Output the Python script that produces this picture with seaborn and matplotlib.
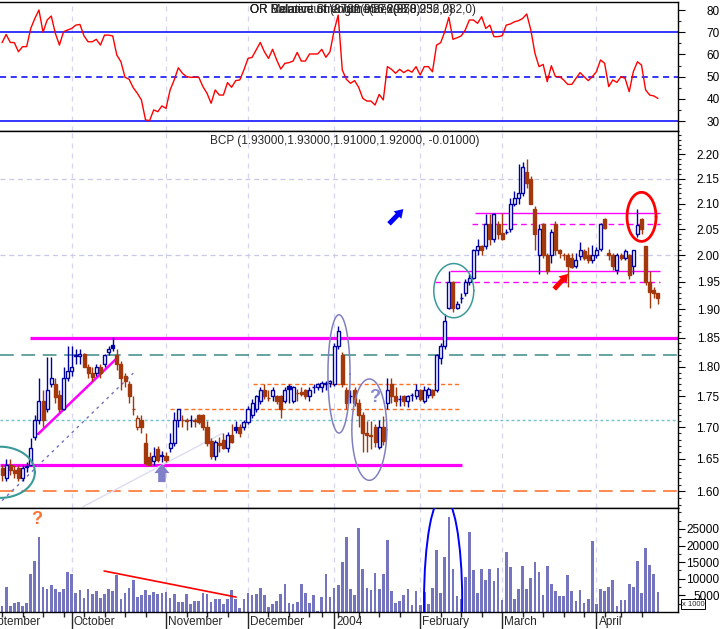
import numpy as np
import pandas as pd
import matplotlib
matplotlib.use("Agg")
import matplotlib.pyplot as plt
import seaborn as sns
from matplotlib.patches import Ellipse
from matplotlib.ticker import FixedLocator, FuncFormatter, NullFormatter
import matplotlib.transforms as mtransforms

# ---- data (one value per trading day) ----
opens = [1.635, 1.620, 1.640, 1.632, 1.635, 1.620, 1.637, 1.641, 1.684, 1.711,
         1.742, 1.730, 1.770, 1.770, 1.752, 1.730, 1.780, 1.792, 1.818, 1.819,
         1.821, 1.800, 1.790, 1.790, 1.800, 1.805, 1.825, 1.838, 1.820, 1.805,
         1.785, 1.770, 1.730, 1.700, 1.711, 1.675, 1.652, 1.647, 1.665, 1.655,
         1.655, 1.667, 1.675, 1.711, 1.712, 1.711, 1.712, 1.711, 1.720, 1.720,
         1.700, 1.678, 1.655, 1.675, 1.680, 1.667, 1.688, 1.700, 1.700, 1.700,
         1.709, 1.720, 1.730, 1.742, 1.760, 1.748, 1.750, 1.750, 1.750, 1.742,
         1.768, 1.742, 1.755, 1.758, 1.760, 1.750, 1.765, 1.765, 1.765, 1.770,
         1.773, 1.771, 1.836, 1.820, 1.760, 1.750, 1.760, 1.740, 1.720, 1.690,
         1.688, 1.700, 1.668, 1.700, 1.740, 1.770, 1.750, 1.745, 1.750, 1.742,
         1.752, 1.750, 1.760, 1.742, 1.752, 1.760, 1.760, 1.815, 1.836, 1.903,
         1.950, 1.903, 1.920, 1.930, 1.950, 1.958, 2.009, 2.017, 2.017, 2.060,
         2.030, 2.060, 2.043, 2.045, 2.050, 2.100, 2.110, 2.121, 2.163, 2.150,
         2.090, 2.000, 2.060, 2.000, 2.000, 2.060, 2.009, 2.000, 2.000, 1.995,
         1.980, 1.998, 2.008, 2.000, 1.990, 2.000, 2.012, 2.070, 2.005, 2.000,
         1.972, 2.000, 1.995, 2.000, 1.980, 2.040, 2.070, 2.017, 1.950, 1.935,
         1.930]
highs = [1.640, 1.650, 1.650, 1.640, 1.640, 1.640, 1.645, 1.682, 1.720, 1.780,
         1.760, 1.817, 1.817, 1.780, 1.760, 1.800, 1.835, 1.835, 1.830, 1.830,
         1.823, 1.805, 1.800, 1.805, 1.805, 1.822, 1.835, 1.851, 1.830, 1.810,
         1.790, 1.775, 1.750, 1.720, 1.720, 1.690, 1.660, 1.668, 1.670, 1.662,
         1.660, 1.690, 1.725, 1.730, 1.720, 1.715, 1.720, 1.715, 1.722, 1.722,
         1.710, 1.682, 1.680, 1.685, 1.690, 1.692, 1.705, 1.710, 1.705, 1.712,
         1.735, 1.745, 1.752, 1.765, 1.770, 1.760, 1.765, 1.752, 1.752, 1.765,
         1.770, 1.768, 1.762, 1.765, 1.762, 1.765, 1.770, 1.772, 1.775, 1.775,
         1.778, 1.840, 1.870, 1.825, 1.765, 1.760, 1.765, 1.745, 1.725, 1.710,
         1.710, 1.705, 1.712, 1.718, 1.780, 1.780, 1.765, 1.752, 1.752, 1.752,
         1.756, 1.770, 1.762, 1.768, 1.765, 1.762, 1.822, 1.840, 1.892, 1.970,
         1.952, 1.915, 1.930, 1.955, 1.965, 2.012, 2.030, 2.020, 2.080, 2.080,
         2.082, 2.065, 2.082, 2.050, 2.110, 2.125, 2.180, 2.185, 2.190, 2.155,
         2.095, 2.060, 2.062, 2.005, 2.050, 2.065, 2.012, 2.005, 2.005, 2.005,
         2.005, 2.025, 2.012, 2.015, 2.020, 2.015, 2.062, 2.072, 2.012, 2.005,
         2.005, 2.005, 2.012, 2.002, 2.010, 2.090, 2.072, 2.018, 1.970, 1.940,
         1.930]
lows = [1.615, 1.615, 1.625, 1.620, 1.615, 1.615, 1.630, 1.638, 1.680, 1.705,
        1.700, 1.725, 1.765, 1.740, 1.725, 1.728, 1.775, 1.785, 1.805, 1.805,
        1.800, 1.780, 1.775, 1.785, 1.780, 1.800, 1.820, 1.826, 1.795, 1.760,
        1.765, 1.740, 1.720, 1.695, 1.690, 1.640, 1.640, 1.640, 1.645, 1.645,
        1.645, 1.660, 1.670, 1.700, 1.700, 1.695, 1.700, 1.700, 1.705, 1.695,
        1.670, 1.650, 1.648, 1.660, 1.665, 1.660, 1.675, 1.690, 1.685, 1.695,
        1.705, 1.715, 1.725, 1.738, 1.745, 1.742, 1.742, 1.738, 1.715, 1.740,
        1.740, 1.740, 1.742, 1.750, 1.745, 1.742, 1.755, 1.760, 1.758, 1.760,
        1.765, 1.768, 1.830, 1.765, 1.730, 1.740, 1.735, 1.700, 1.660, 1.660,
        1.665, 1.668, 1.665, 1.672, 1.730, 1.740, 1.735, 1.735, 1.735, 1.732,
        1.742, 1.745, 1.742, 1.740, 1.748, 1.748, 1.758, 1.805, 1.830, 1.900,
        1.896, 1.900, 1.912, 1.925, 1.945, 1.955, 2.000, 2.000, 2.012, 2.020,
        2.025, 2.030, 2.028, 2.040, 2.045, 2.095, 2.100, 2.115, 2.130, 2.100,
        2.010, 1.965, 1.995, 1.965, 1.985, 2.000, 1.995, 1.990, 1.940, 1.975,
        1.975, 1.990, 1.990, 1.985, 1.985, 1.995, 2.008, 2.050, 1.990, 1.972,
        1.965, 1.990, 1.990, 1.955, 1.965, 2.035, 2.040, 1.945, 1.903, 1.920,
        1.910]
closes = [1.625, 1.640, 1.632, 1.628, 1.620, 1.635, 1.638, 1.667, 1.711, 1.742,
          1.711, 1.760, 1.780, 1.749, 1.730, 1.780, 1.792, 1.800, 1.820, 1.821,
          1.800, 1.790, 1.782, 1.800, 1.790, 1.820, 1.830, 1.832, 1.805, 1.780,
          1.775, 1.750, 1.730, 1.715, 1.700, 1.643, 1.641, 1.655, 1.648, 1.655,
          1.648, 1.675, 1.711, 1.730, 1.712, 1.710, 1.712, 1.710, 1.709, 1.700,
          1.675, 1.655, 1.677, 1.672, 1.667, 1.688, 1.677, 1.695, 1.690, 1.709,
          1.730, 1.740, 1.750, 1.760, 1.750, 1.748, 1.760, 1.742, 1.730, 1.760,
          1.763, 1.765, 1.755, 1.754, 1.750, 1.760, 1.765, 1.770, 1.772, 1.773,
          1.775, 1.836, 1.862, 1.770, 1.740, 1.750, 1.740, 1.720, 1.690, 1.688,
          1.686, 1.676, 1.700, 1.678, 1.760, 1.750, 1.742, 1.745, 1.742, 1.750,
          1.752, 1.760, 1.745, 1.760, 1.762, 1.752, 1.820, 1.836, 1.880, 1.950,
          1.903, 1.910, 1.920, 1.950, 1.958, 2.009, 2.017, 2.009, 2.060, 2.030,
          2.080, 2.040, 2.030, 2.045, 2.100, 2.110, 2.120, 2.173, 2.142, 2.100,
          2.040, 2.050, 2.000, 1.970, 2.045, 2.009, 2.005, 2.000, 1.980, 1.978,
          1.990, 2.010, 1.995, 1.990, 2.000, 2.010, 2.060, 2.052, 2.000, 1.980,
          2.000, 1.995, 2.008, 1.962, 2.009, 2.058, 2.050, 1.950, 1.932, 1.930,
          1.920]
volume = [1800, 7600, 1800, 2800, 3000, 1800, 2600, 11300, 15300, 22500,
          7600, 7000, 8000, 6800, 6100, 6800, 12000, 11500, 5800, 6500,
          4300, 6800, 5300, 6300, 4300, 5500, 6800, 6300, 11000, 3800,
          5800, 7100, 9500, 4500, 5000, 6600, 5100, 6000, 5300, 5800,
          6100, 4100, 5500, 3100, 3000, 5500, 2300, 3300, 3300, 5800,
          5300, 3100, 4000, 3800, 2500, 4000, 6700, 3800, 1300, 3800,
          5800, 5100, 5300, 7100, 5000, 1500, 2500, 3300, 5300, 8300,
          2600, 2500, 3000, 8300, 5800, 2800, 5000, 300, 4500, 11500,
          4600, 7300, 8000, 15000, 22700, 6800, 5100, 25200, 12800, 7100,
          6600, 11800, 6900, 11500, 21700, 6300, 2800, 3300, 5100, 6900,
          2100, 6300, 2100, 6100, 2300, 7300, 18700, 5600, 16500, 28700,
          12800, 4800, 3800, 10500, 24200, 12500, 5800, 12800, 9500, 12800,
          9300, 13300, 3500, 18000, 13600, 3800, 7000, 14000, 6900, 10300,
          15100, 12000, 5100, 13800, 8300, 6300, 4800, 4800, 11000, 6300,
          3300, 6500, 2600, 3800, 21400, 2500, 6900, 6300, 7500, 9600,
          1800, 3500, 3500, 8300, 7600, 15400, 5800, 19200, 14300, 11300,
          6100]
rsi = [65.3, 69.0, 65.4, 65.3, 61.2, 63.5, 63.5, 71.7, 76.2, 80.0,
       70.0, 75.5, 77.3, 69.5, 64.2, 70.2, 71.0, 71.7, 73.2, 73.5,
       68.3, 65.7, 65.7, 66.8, 64.2, 68.7, 68.7, 68.3, 59.7, 56.7,
       49.7, 48.8, 45.0, 42.5, 39.5, 30.5, 30.2, 35.0, 34.2, 36.8,
       35.7, 44.0, 48.5, 54.0, 51.5, 50.0, 49.7, 49.7, 49.7, 45.5,
       42.5, 38.0, 44.0, 41.7, 41.7, 47.3, 45.2, 48.2, 48.5, 53.0,
       58.2, 58.7, 62.0, 65.4, 61.2, 58.2, 62.3, 57.5, 53.4, 56.0,
       56.3, 57.0, 60.9, 57.0, 57.0, 60.2, 60.2, 60.2, 62.3, 58.7,
       61.2, 70.7, 77.7, 53.0, 48.8, 47.0, 48.2, 45.2, 40.2, 39.0,
       39.0, 37.2, 42.0, 39.5, 54.5, 53.3, 51.5, 53.3, 51.8, 53.0,
       52.0, 54.5, 50.7, 54.5, 54.5, 52.2, 64.2, 65.3, 70.2, 76.7,
       66.8, 67.5, 68.3, 71.0, 75.5, 75.5, 74.0, 77.0, 71.7, 73.2,
       68.0, 68.0, 68.4, 73.2, 73.7, 74.7, 75.2, 76.2, 78.2, 71.0,
       60.5, 54.5, 55.5, 47.7, 54.9, 50.0, 50.0, 48.5, 46.5, 46.5,
       49.2, 51.8, 50.0, 48.2, 50.0, 52.2, 57.5, 56.0, 45.5, 48.5,
       47.4, 50.0, 49.2, 43.2, 52.2, 56.7, 55.2, 44.0, 41.7, 41.3,
       40.2]
holidays = ["2003-12-25", "2003-12-26", "2004-01-01", "2004-04-09"]
month_labels = ["September", "October", "November", "December", "2004",
                "February", "March", "April"]
price_ticks = [1.60, 1.65, 1.70, 1.75, 1.80, 1.85, 1.90, 1.95, 2.00, 2.05, 2.10, 2.15, 2.20]
rsi_ticks = [30, 40, 50, 60, 70, 80]
vol_ticks = [5000, 10000, 15000, 20000, 25000]

BLUE = "#0000a0"
BROWN = "#a3380c"
MAGENTA = "#ff00ff"
GRIDC = "#d6d6f0"

sns.set_style("white")
plt.rcParams["font.family"] = ["Liberation Sans", "DejaVu Sans"]
plt.rcParams["font.size"] = 8

n = len(closes)
idx = np.arange(n)

# trading calendar, starting 5 sessions before the first candle
days = pd.bdate_range("2003-09-01", periods=n + 5, freq="C", holidays=holidays)
pos = np.arange(len(days)) - 5
mon = np.asarray(days.month)
month_start = pos[np.r_[True, mon[1:] != mon[:-1]]]
mondays = pos[np.asarray(days.weekday) == 0]

fig = plt.figure(figsize=(7.24, 6.29), dpi=100)
W = 678 / 724
ax_r = fig.add_axes([0, 0.7917, W, 0.2051])
ax_p = fig.add_axes([0, 0.1924, W, 0.5994], sharex=ax_r)
ax_v = fig.add_axes([0, 0.0270, W, 0.1653], sharex=ax_r)

for ax in (ax_r, ax_p, ax_v):
    ax.set_facecolor("white")
    ax.spines["left"].set_visible(False)
    for s in ("top", "right", "bottom"):
        ax.spines[s].set_color("black")
        ax.spines[s].set_linewidth(1)
    ax.yaxis.tick_right()
    ax.tick_params(axis="y", which="major", length=5, width=0.8, pad=25,
                   colors="black", labelsize=8.5)
    ax.tick_params(axis="y", which="minor", length=2.5, width=0.8)
    for m in month_start[1:]:
        ax.axvline(m, color=GRIDC, lw=0.9, ls=(0, (4, 4)), zorder=0)
ax_r.set_xlim(-0.5, 164.9)

# ---- RSI panel ----
sns.lineplot(x=idx, y=rsi, ax=ax_r, color="red", linewidth=1)
for lev, ls in ((70, "-"), (50, (0, (4, 3))), (30, "-")):
    ax_r.axhline(lev, color="#0000ff", lw=1.1, ls=ls, zorder=1)
ax_r.set_ylim(25.5, 83.6)
ax_r.yaxis.set_major_locator(FixedLocator(rsi_ticks))
ax_r.yaxis.set_minor_locator(FixedLocator([35, 45, 55, 65, 75]))
ax_r.set_xlabel("")
ax_r.set_ylabel("")
ax_r.tick_params(axis="x", which="both", bottom=False, labelbottom=False)
for txt in ("OR Relative Strength Index(878,956,282,0)",
            "OR Balance of Volume(876(958,232,0)",
            "OR Momentum(8782(956,293,0)"):
    ax_r.text(0.3687, 0.935, txt, transform=ax_r.transAxes, va="center", fontsize=8.5)

# ---- price panel ----
ax_p.set_yscale("log")
ax_p.set_ylim(1.575, 2.249)
ax_p.yaxis.set_major_locator(FixedLocator(price_ticks))
ax_p.yaxis.set_major_formatter(FuncFormatter(lambda v, p: f"{v:.2f}"))
ax_p.yaxis.set_minor_locator(FixedLocator(np.round(np.arange(1.58, 2.25, 0.01), 2)))
ax_p.yaxis.set_minor_formatter(NullFormatter())
ax_p.tick_params(axis="x", which="both", bottom=False, labelbottom=False)

for lev in (2.15, 2.00):
    ax_p.axhline(lev, color="#c8c8e8", lw=0.9, ls=(0, (4, 3)), zorder=0)
ax_p.axhline(1.711, color="#6cc4cc", lw=1, ls=(0, (2, 2)), zorder=1)
ax_p.axhline(1.82, color="#3a8a88", lw=1.1, ls=(0, (9, 5)), zorder=1)
ax_p.axhline(1.60, color="#ff6a20", lw=1.1, ls=(0, (9, 5)), zorder=1)
ax_p.hlines(1.85, 6.8, 164.9, color=MAGENTA, lw=2.3, zorder=1)
ax_p.hlines(1.64, -0.5, 112.2, color=MAGENTA, lw=2.3, zorder=1)
ax_p.hlines(1.77, 61.2, 112.0, color="#ff7020", lw=1, ls=(0, (3, 2)), zorder=1)
ax_p.hlines(1.73, 41.0, 112.0, color="#ff7020", lw=1, ls=(0, (3, 2)), zorder=1)
ax_p.hlines(2.082, 115.4, 160.5, color=MAGENTA, lw=1, zorder=1)
ax_p.hlines(2.060, 114.6, 160.5, color=MAGENTA, lw=1, ls=(0, (4, 3)), zorder=1)
ax_p.hlines(1.9706, 109.3, 160.5, color=MAGENTA, lw=1, zorder=1)
ax_p.hlines(1.950, 105.6, 160.5, color=MAGENTA, lw=1, ls=(0, (4, 3)), zorder=1)

# trend lines
ax_p.plot([19.8, 53.7], [1.577, 1.690], color="#dcdcf2", lw=1, zorder=1)
ax_p.plot([0, 32], [1.586, 1.789], color="#7070c0", lw=1, ls=(0, (2, 3)), zorder=1)
ax_p.plot([8.8, 28.1], [1.689, 1.815], color=MAGENTA, lw=1.8, zorder=3)

# candles: blue if close >= previous close, filled if close < open
op = np.array(opens)
cl = np.array(closes)
prev = np.r_[cl[0] + 1, cl[:-1]]
col = np.where(cl >= prev, BLUE, BROWN)
bottom = np.minimum(op, cl)
height = np.maximum(np.abs(cl - op), 1e-4)
face = [c if cc < oo else "white" for c, cc, oo in zip(col, cl, op)]
ax_p.vlines(idx, lows, highs, colors=col, lw=1, zorder=4)
ax_p.bar(idx, height, bottom=bottom, width=0.74, color=face, edgecolor=col,
         linewidth=1, zorder=5)


def ring(ax, cx, cy, a, b, color, lw=1.2):
    t = np.linspace(0, 2 * np.pi, 240)
    ax.plot(cx + a * np.cos(t), np.exp(np.log(cy) + b * np.sin(t)),
            color=color, lw=lw, zorder=6)


ring(ax_p, -0.5, 1.629, 8.5, 0.0242, "#3a9a98", 1.5)
ring(ax_p, 82.2, 1.7877, 2.7, 0.0559, "#8080c0", 1.1)
ring(ax_p, 89.6, 1.696, 4.27, 0.0479, "#8080c0", 1.1)
ring(ax_p, 110.2, 1.934, 4.88, 0.0256, "#3a9a98", 1.1)
ring(ax_p, 156.0, 2.0737, 3.54, 0.0232, "red", 2)

arrow = "simple,head_width=0.7,head_length=0.55,tail_width=0.32"
ax_p.annotate("", xy=(97.9, 2.089), xytext=(94.4, 2.060),
              arrowprops=dict(arrowstyle=arrow, color="#0000ff", mutation_scale=11, lw=0,
                              shrinkA=0, shrinkB=0))
ax_p.annotate("", xy=(138.1, 1.965), xytext=(134.7, 1.937),
              arrowprops=dict(arrowstyle=arrow, color="red", mutation_scale=11, lw=0,
                              shrinkA=0, shrinkB=0))
ax_p.annotate("", xy=(39.0, 1.642), xytext=(39.0, 1.614),
              arrowprops=dict(arrowstyle="simple,head_width=0.9,head_length=0.55,tail_width=0.45",
                              color="#8080c8", mutation_scale=12, lw=0, shrinkA=0, shrinkB=0))
ax_p.text(91.0, 1.7476, "?", color="#8888cc", fontsize=13, fontweight="bold",
          ha="center", va="center", zorder=7)
ax_p.text(0.3097, 0.973, "BCP (1.93000,1.93000,1.91000,1.92000, -0.01000)",
          transform=ax_p.transAxes, va="center", fontsize=8.5)

# ---- volume panel ----
ax_v.bar(idx, volume, width=0.66, color="#7474bf", linewidth=0, zorder=2)
ax_v.set_ylim(0, 31300)
ax_v.yaxis.set_major_locator(FixedLocator(vol_ticks))
ax_v.yaxis.set_minor_locator(FixedLocator(np.arange(2500, 31000, 2500)))
ax_v.yaxis.set_major_formatter(FuncFormatter(lambda v, p: f"{int(v)}"))
ax_v.plot([24.9, 57.1], [12350, 4500], color="red", lw=1.2, zorder=3)
ax_v.add_patch(Ellipse((107.6, 3600), 9.3, 62800, fill=False, edgecolor="#0000ff",
                       lw=1.4, zorder=4))
ax_v.text(8.5, 27800, "?", color="#ff7030", fontsize=13, fontweight="bold",
          ha="center", va="center", zorder=5)

majors = month_start[month_start >= -0.5]
ax_v.set_xticks(majors)
ax_v.set_xticks(mondays[mondays >= -0.5], minor=True)
ax_v.tick_params(axis="x", which="major", length=12, width=1, direction="out",
                 labelbottom=False, bottom=True)
ax_v.tick_params(axis="x", which="minor", length=3.5, width=1, direction="out",
                 bottom=True)
trans = mtransforms.blended_transform_factory(ax_v.transData, ax_v.transAxes)
for m, lab in zip(month_start, month_labels):
    ax_v.text(m + 0.5, -0.095, lab, transform=trans, ha="left", va="center",
              fontsize=8.5, clip_on=False)

for ax in (ax_r, ax_p, ax_v):
    for t in ax.yaxis.get_major_ticks():
        t.label2.set_horizontalalignment("right")

fig.text(693 / 724, 1 - 604 / 629, "x 1000", fontsize=5.5, ha="center", va="center",
         bbox=dict(boxstyle="square,pad=0.15", facecolor="white", edgecolor="black", lw=0.7))

fig.savefig("out.png", dpi=100)
